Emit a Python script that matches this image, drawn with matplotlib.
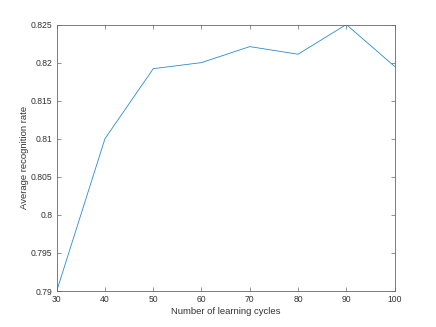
import matplotlib
matplotlib.use("Agg")
import matplotlib.pyplot as plt

cycles = [30, 40, 50, 60, 70, 80, 90, 100]
rate = [0.790, 0.810, 0.8192, 0.8200, 0.8221, 0.8211, 0.8250, 0.8195]
xticks = [30, 40, 50, 60, 70, 80, 90, 100]
yticks = [0.79, 0.795, 0.8, 0.805, 0.81, 0.815, 0.82, 0.825]
ytick_labels = ["0.79", "0.795", "0.8", "0.805", "0.81", "0.815", "0.82", "0.825"]

plt.rcParams["font.family"] = ["Liberation Sans", "DejaVu Sans"]

fig = plt.figure(figsize=(4.36, 3.27), dpi=100)
ax = fig.add_axes([0.13, 0.11, 0.775, 0.815])
ax.plot(cycles, rate, color="#2a8ad0", linewidth=0.6)

ax.set_xlim(30, 100)
ax.set_ylim(0.79, 0.825)
ax.set_xticks(xticks)
ax.set_yticks(yticks)
ax.set_yticklabels(ytick_labels)

grey = "#333333"
for s in ax.spines.values():
    s.set_color("#666666")
    s.set_linewidth(0.6)
ax.tick_params(direction="in", length=3, width=0.5, color="#666666",
               labelsize=6.2, labelcolor=grey, top=True, right=True, pad=3)

ax.set_xlabel("Number of learning cycles", fontsize=6.8, color=grey, labelpad=2)
ax.set_ylabel("Average recognition rate", fontsize=6.8, color=grey, labelpad=1)

fig.savefig("out.png", dpi=100)
